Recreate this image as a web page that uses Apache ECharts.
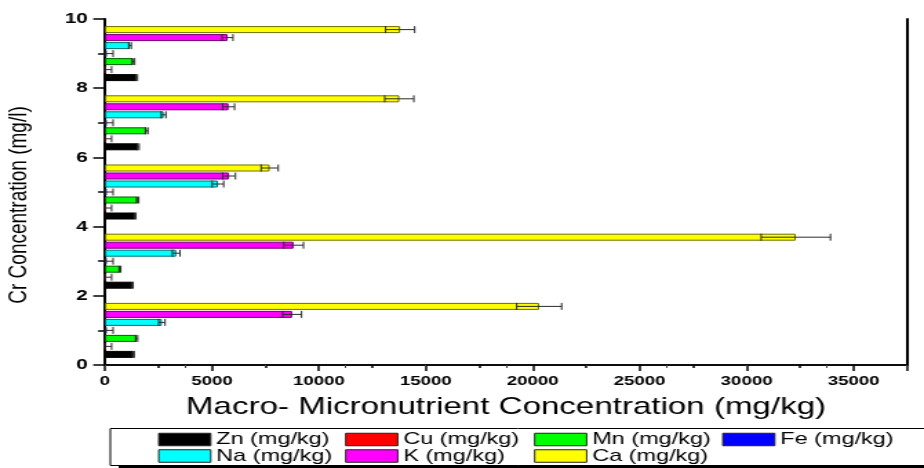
<!DOCTYPE html>
<html>
<head>
<meta charset="utf-8">
<script src="https://cdn.jsdelivr.net/npm/echarts@6/dist/echarts.min.js"></script>
<style>
  html, body { margin: 0; padding: 0; background: #fff; overflow: hidden; }
  #wrap { width: 924px; height: 468px; overflow: hidden; position: relative; }
  /* the chart is laid out narrow and widened horizontally */
  #chart { width: 670px; height: 468px; transform: scaleX(1.3791); transform-origin: 0 0; }
</style>
</head>
<body>
<div id="wrap"><div id="chart"></div></div>
<script>
// Cr concentration levels (mg/l), one bar group per level
const crLevels = ['1', '3', '5', '7', '9'];

// nutrient concentrations (mg/kg) and their error margins, per Cr level
const zn = [1330, 1280, 1410, 1560, 1480];
const znErr = [40, 40, 40, 40, 40];
const cu = [30, 30, 30, 30, 30];
const cuErr = [280, 280, 280, 280, 280];
const mn = [1480, 700, 1530, 1950, 1330];
const mnErr = [50, 40, 50, 60, 60];
const fe = [80, 80, 80, 80, 80];
const feErr = [300, 300, 300, 300, 300];
const na = [2660, 3330, 5280, 2740, 1170];
const naErr = [150, 180, 270, 110, 60];
const k = [8750, 8820, 5800, 5780, 5730];
const kErr = [440, 460, 300, 280, 255];
const ca = [20300, 32300, 7700, 13760, 13800];
const caErr = [1050, 1620, 400, 680, 680];

const yTicks = [0, 10, 2];          // min, max, step of the Cr axis
const xTicks = [0, 37500, 5000];    // min, max, step of the concentration axis

// top-to-bottom order inside each group
const nutrients = [
  { name: 'Ca (mg/kg)', v: ca, e: caErr, fill: '#ffff00', edge: '#6e6e00' },
  { name: 'K (mg/kg)',  v: k,  e: kErr,  fill: '#ff00ff', edge: '#700070' },
  { name: 'Na (mg/kg)', v: na, e: naErr, fill: '#00ffff', edge: '#007070' },
  { name: 'Fe (mg/kg)', v: fe, e: feErr, fill: '#0000ff', edge: '#000070' },
  { name: 'Mn (mg/kg)', v: mn, e: mnErr, fill: '#00ff00', edge: '#006000' },
  { name: 'Cu (mg/kg)', v: cu, e: cuErr, fill: '#ff0000', edge: '#700000' },
  { name: 'Zn (mg/kg)', v: zn, e: znErr, fill: '#000000', edge: '#000000' }
];

const BAR_W = 7;
const BAR_GAP = 1;
const slotCount = nutrients.length;
function slotCenter(slot) {
  const total = slotCount * BAR_W + (slotCount - 1) * BAR_GAP;
  return -total / 2 + slot * (BAR_W + BAR_GAP) + BAR_W / 2;
}

const series = [];
nutrients.forEach((n) => {
  series.push({
    name: n.name,
    type: 'bar',
    xAxisIndex: 0,
    yAxisIndex: 0,
    barWidth: BAR_W,
    barGap: (BAR_GAP / BAR_W * 100) + '%',
    itemStyle: { color: n.fill, borderColor: n.edge, borderWidth: 1 },
    data: n.v,
    z: 2
  });
});
nutrients.forEach((n, slot) => {
  series.push({
    name: n.name,
    type: 'custom',
    xAxisIndex: 0,
    yAxisIndex: 0,
    z: 5,
    silent: true,
    data: n.v.map((val, i) => [val, i, n.e[i]]),
    encode: { x: 0, y: 1 },
    renderItem(params, api) {
      const val = api.value(0), cat = api.value(1), err = api.value(2);
      const mid = api.coord([val, cat]);
      const y = mid[1] + slotCenter(slot);
      const lo = api.coord([Math.max(0, val - err), cat])[0];
      const hi = api.coord([val + err, cat])[0];
      const h = BAR_W / 2;
      const st = { stroke: '#2a2a2a', lineWidth: 1 };
      return {
        type: 'group',
        children: [
          { type: 'line', shape: { x1: lo, y1: y, x2: hi, y2: y }, style: st },
          { type: 'line', shape: { x1: lo, y1: y - h, x2: lo, y2: y + h }, style: st },
          { type: 'line', shape: { x1: hi, y1: y - h, x2: hi, y2: y + h }, style: st }
        ]
      };
    }
  });
});

// legend laid out as a grid of single-entry legends
const legendCells = [
  ['Zn (mg/kg)', 114.6, 0], ['Cu (mg/kg)', 250.2, 0], ['Mn (mg/kg)', 387.2, 0], ['Fe (mg/kg)', 523.6, 0],
  ['Na (mg/kg)', 114.6, 1], ['K (mg/kg)', 250.2, 1], ['Ca (mg/kg)', 387.2, 1]
];
const legends = legendCells.map(([name, left, row]) => ({
  data: [name],
  left: left,
  top: 431 + row * 16.5,
  padding: 0,
  itemWidth: 37.7,
  itemHeight: 12.5,
  icon: 'rect',
  selectedMode: false,
  itemStyle: { borderColor: '#222', borderWidth: 1 },
  textStyle: { fontFamily: 'Liberation Sans, Arial, sans-serif', fontSize: 17, color: '#000', padding: [0, 0, 0, -1] }
}));

const chart = echarts.init(document.getElementById('chart'), null, { renderer: 'canvas' });
chart.setOption({
  animation: false,
  backgroundColor: '#fff',
  grid: { left: 76.1, right: 12.3, top: 19, bottom: 103, containLabel: false, outerBoundsMode: 'none' },
  legend: legends,
  graphic: [
    { type: 'rect', shape: { x: 86, y: 432, width: 700, height: 40 }, style: { fill: '#000' }, z: 0 },
    { type: 'rect', shape: { x: 80, y: 428.5, width: 700, height: 37 }, style: { fill: '#fff', stroke: '#000', lineWidth: 1 }, z: 1 }
  ],
  xAxis: [
    {
      type: 'value', position: 'bottom',
      min: xTicks[0], max: xTicks[1], interval: xTicks[2],
      name: 'Macro- Micronutrient Concentration (mg/kg)',
      nameLocation: 'middle', nameGap: 30,
      nameTextStyle: { fontFamily: 'Liberation Sans, Arial, sans-serif', fontSize: 24, color: '#000' },
      axisLine: { show: true, lineStyle: { color: '#000', width: 1.5 } },
      axisTick: { show: true, inside: false, length: 6, lineStyle: { color: '#000', width: 1.5 } },
      minorTick: { show: true, splitNumber: 2, length: 3, lineStyle: { color: '#000', width: 1.5 } },
      axisLabel: {
        showMaxLabel: false, margin: 9,
        formatter: (v) => String(v),
        fontFamily: 'Liberation Sans, Arial, sans-serif', fontWeight: 'bold', fontSize: 13.5, color: '#000'
      },
      splitLine: { show: false }
    },
    {
      type: 'value', position: 'top',
      min: 0, max: 37500, interval: 3750,
      axisLine: { show: true, lineStyle: { color: '#000', width: 1.5 } },
      axisTick: { show: true, inside: true, length: 3, lineStyle: { color: '#444', width: 1 } },
      axisLabel: { show: false },
      splitLine: { show: false }
    }
  ],
  yAxis: [
    {
      type: 'category', data: crLevels, show: false, boundaryGap: true
    },
    {
      type: 'value', position: 'left',
      min: yTicks[0], max: yTicks[1], interval: yTicks[2],
      name: 'Cr Concentration (mg/l)',
      nameLocation: 'middle', nameGap: 53, nameRotate: 90,
      nameTextStyle: { fontFamily: 'Liberation Sans, Arial, sans-serif', fontSize: 19, color: '#000', padding: [0, 26, 0, 0] },
      axisLine: { show: true, lineStyle: { color: '#000', width: 2 } },
      axisTick: { show: true, inside: false, length: 8.5, lineStyle: { color: '#000', width: 1.5 } },
      minorTick: { show: true, splitNumber: 2, length: 5, lineStyle: { color: '#000', width: 1.5 } },
      axisLabel: {
        margin: 12.5,
        formatter: (v) => String(v),
        fontFamily: 'Liberation Sans, Arial, sans-serif', fontWeight: 'bold', fontSize: 15, color: '#000'
      },
      splitLine: { show: false }
    },
    {
      type: 'value', position: 'right',
      min: yTicks[0], max: yTicks[1],
      axisLine: { show: true, lineStyle: { color: '#000', width: 2 } },
      axisTick: { show: false },
      axisLabel: { show: false },
      splitLine: { show: false }
    }
  ],
  series: series
});
</script>
</body>
</html>
